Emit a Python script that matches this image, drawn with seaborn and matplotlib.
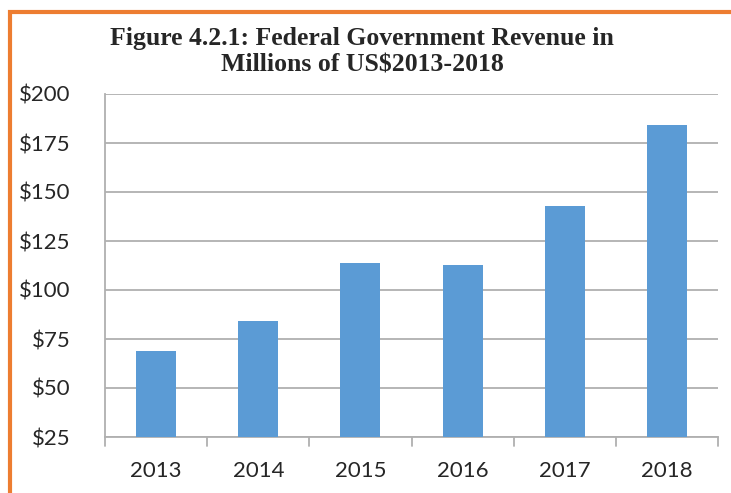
import matplotlib
matplotlib.use('Agg')
import matplotlib.pyplot as plt
import matplotlib.patches as patches
import seaborn as sns
import pandas as pd

years = ['2013', '2014', '2015', '2016', '2017', '2018']
revenue = [69, 84, 114, 113, 143, 184]
yticks = [25, 50, 75, 100, 125, 150, 175, 200]

data = pd.DataFrame({'year': years, 'revenue': revenue})

sns.set_style('white')
plt.rcParams['font.family'] = ['Lato', 'DejaVu Sans']

fig = plt.figure(figsize=(7.31, 4.93), dpi=100)
ax = fig.add_axes([105 / 731, 1 - 437 / 493, 613 / 731, 343 / 493])

sns.barplot(x='year', y='revenue', data=data, color='#5B9BD5', width=0.39,
            saturation=1, ax=ax, zorder=3)
for b in ax.patches:
    b.set_edgecolor('none')

ax.set_ylim(25, 200)
ax.set_xlim(-0.5, 5.5)
ax.set_yticks(yticks)
ax.set_yticklabels([f'${v}' for v in yticks], fontsize=16)
ax.tick_params(axis='x', labelsize=16, length=0, pad=17)
ax.tick_params(axis='y', length=8, color='#B0B0B0', width=1.3, pad=17)
ax.yaxis.grid(True, color='#B0B0B0', linewidth=1.3, zorder=0)
ax.set_axisbelow(True)
ax.set_xlabel('')
ax.set_ylabel('')
for s in ['top', 'right']:
    ax.spines[s].set_visible(False)
for s in ['left', 'bottom']:
    ax.spines[s].set_color('#B0B0B0')
    ax.spines[s].set_linewidth(1.3)

# category boundary ticks
for i in range(7):
    ax.plot([i - 0.5, i - 0.5], [0, -0.025], transform=ax.get_xaxis_transform(),
            color='#B0B0B0', lw=1.3, clip_on=False)

fig.text(362 / 731, 1 - 52 / 493, 'Figure 4.2.1: Federal Government Revenue in\nMillions of US$2013-2018',
         ha='center', va='center', fontsize=18.5, fontweight='bold',
         family='Liberation Serif', linespacing=1.2)

# orange frame (left and top edges visible)
fig.patches.append(patches.Rectangle((10 / 731, -0.1), 1.2, 1 - 12.5 / 493 + 0.1,
                                     transform=fig.transFigure, fill=False,
                                     edgecolor='#ED7D31', linewidth=3))

fig.savefig('out.png', dpi=100)
